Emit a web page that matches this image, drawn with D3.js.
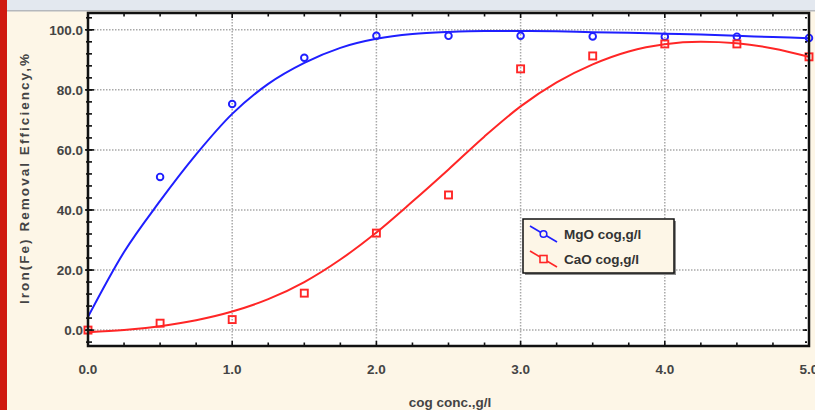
<!DOCTYPE html>
<html>
<head>
<meta charset="utf-8">
<script src="https://cdn.jsdelivr.net/npm/d3@7"></script>
<style>
  body { margin: 0; background: #fdf6e7; }
  svg { display: block; font-family: "Liberation Sans", Arial, sans-serif; }
</style>
</head>
<body>
<script>

// Valores
var doses = [0.0, 0.5, 1.0, 1.5, 2.0, 2.5, 3.0, 3.5, 4.0, 4.5, 5.0];
var mgoPontos = [null, 51, 75.3, 90.7, 98, 98, 98, 97.8, 97.7, 97.7, 97.3];
var caoPontos = [0, 2.3, 3.5, 12.3, 32.3, 45, 87, 91.3, 95.3, 95.3, 91];

// Curvas ajustadas (lidas a cada 0.25)
var curvaX = [0, 0.25, 0.5, 0.75, 1.0, 1.25, 1.5, 1.75, 2.0, 2.25, 2.5, 2.75, 3.0, 3.25, 3.5, 3.75, 4.0, 4.25, 4.5, 4.75, 5.0];
var mgoCurva = [4.4, 26, 43, 58.5, 72, 82, 89, 94, 97, 98.6, 99.3, 99.6, 99.6, 99.5, 99.2, 99, 98.7, 98.4, 98, 97.6, 97.2];
var caoCurva = [-0.7, 0, 1.3, 3.3, 6.2, 10.3, 16, 23.5, 32.5, 42.8, 53.5, 64.5, 74.5, 82.5, 88.5, 92.8, 95.2, 96, 95.5, 93.8, 91];

var xTicks = [0, 1, 2, 3, 4, 5];
var yTicks = [0, 20, 40, 60, 80, 100];

var series = [
  { nome: "MgO cog,g/l", cor: "#1f1fff", pontos: mgoPontos, curva: mgoCurva, simbolo: "circle" },
  { nome: "CaO cog,g/l", cor: "#ff2626", pontos: caoPontos, curva: caoCurva, simbolo: "square" }
];

var W = 815, H = 410;
var margin = { top: 13, right: 6, bottom: 64, left: 88 };
var width = W - margin.left - margin.right,
    height = H - margin.top - margin.bottom;

var svg = d3.select("body").append("svg")
    .attr("width", W)
    .attr("height", H);

// Faixas do fundo
svg.append("rect").attr("x", 0).attr("y", 0).attr("width", W).attr("height", H).attr("fill", "#fdf6e7");
svg.append("rect").attr("x", 0).attr("y", 0).attr("width", W).attr("height", 10).attr("fill", "#e3e8ef");
svg.append("rect").attr("x", 0).attr("y", 10).attr("width", W).attr("height", 1.5).attr("fill", "#b5b8bd");
svg.append("rect").attr("x", 0).attr("y", 0).attr("width", 7).attr("height", H).attr("fill", "#d0190f");

var g = svg.append("g")
    .attr("transform", "translate(" + margin.left + "," + margin.top + ")");

var x = d3.scaleLinear().domain([0, 5]).range([0, width]);
var y = d3.scaleLinear().domain([-5.3, 105.6]).range([height, 0]);

g.append("rect")
  .attr("width", width).attr("height", height)
  .attr("fill", "#ffffff");

// Grade pontilhada
g.selectAll(".gx").data(xTicks.slice(1, -1)).enter().append("line")
  .attr("x1", function(d) { return x(d); }).attr("x2", function(d) { return x(d); })
  .attr("y1", 0).attr("y2", height)
  .attr("stroke", "#a9a9a9").attr("stroke-width", 1.5).attr("stroke-dasharray", "1.5,1.5");

g.selectAll(".gy").data(yTicks).enter().append("line")
  .attr("x1", 0).attr("x2", width)
  .attr("y1", function(d) { return y(d); }).attr("y2", function(d) { return y(d); })
  .attr("stroke", "#a9a9a9").attr("stroke-width", 1.5).attr("stroke-dasharray", "1.5,1.5");

g.append("clipPath").attr("id", "clip")
  .append("rect").attr("width", width).attr("height", height);

var linha = d3.line()
  .x(function(d, i) { return x(curvaX[i]); })
  .y(function(d) { return y(d); })
  .curve(d3.curveMonotoneX);

var plot = g.append("g").attr("clip-path", "url(#clip)");

series.forEach(function(s) {
  plot.append("path")
    .datum(s.curva)
    .attr("fill", "none")
    .attr("stroke", s.cor)
    .attr("stroke-width", 2)
    .attr("d", linha);
});

series.forEach(function(s) {
  var dados = doses.map(function(d, i) { return { x: d, y: s.pontos[i] }; })
    .filter(function(d) { return d.y !== null; });
  if (s.simbolo === "circle") {
    g.selectAll(".c").data(dados).enter().append("circle")
      .attr("cx", function(d) { return x(d.x); })
      .attr("cy", function(d) { return y(d.y); })
      .attr("r", 3.3)
      .attr("fill", "none")
      .attr("stroke", s.cor)
      .attr("stroke-width", 1.9);
  } else {
    g.selectAll(".s").data(dados).enter().append("rect")
      .attr("x", function(d) { return x(d.x) - 3.5; })
      .attr("y", function(d) { return y(d.y) - 3.5; })
      .attr("width", 7).attr("height", 7)
      .attr("fill", "none")
      .attr("stroke", s.cor)
      .attr("stroke-width", 1.9);
  }
});

// Marcas menores e maiores
var xMinor = d3.range(0, 5.001, 0.25);
var yMinor = d3.range(-4, 105, 4);

function ticksX(yPos, dir) {
  g.selectAll(null).data(xMinor).enter().append("line")
    .attr("x1", function(d) { return x(d); }).attr("x2", function(d) { return x(d); })
    .attr("y1", yPos)
    .attr("y2", function(d) { return yPos + dir * (d % 1 === 0 ? 5 : 3.5); })
    .attr("stroke", "#111").attr("stroke-width", 1.6);
}
function ticksY(xPos, dir) {
  g.selectAll(null).data(yMinor).enter().append("line")
    .attr("y1", function(d) { return y(d); }).attr("y2", function(d) { return y(d); })
    .attr("x1", xPos - 2)
    .attr("x2", xPos + dir * 4)
    .attr("stroke", "#111").attr("stroke-width", 1.6);
  g.selectAll(null).data(yTicks).enter().append("line")
    .attr("y1", function(d) { return y(d); }).attr("y2", function(d) { return y(d); })
    .attr("x1", xPos - 3)
    .attr("x2", xPos + dir * 6)
    .attr("stroke", "#111").attr("stroke-width", 1.6);
}
ticksX(0, 1);
ticksX(height, -1);
ticksY(0, 1);
ticksY(width, -1);

// Moldura
g.append("rect")
  .attr("width", width).attr("height", height)
  .attr("fill", "none").attr("stroke", "#111").attr("stroke-width", 2.5);

// Rótulos dos eixos
g.selectAll(".lx").data(xTicks).enter().append("text")
  .attr("x", function(d) { return x(d); })
  .attr("y", height + 28)
  .attr("text-anchor", "middle")
  .attr("font-size", "13.5px")
  .attr("font-weight", "bold")
  .attr("fill", "#444")
  .text(function(d) { return d.toFixed(1); });

g.selectAll(".ly").data(yTicks).enter().append("text")
  .attr("x", -5)
  .attr("y", function(d) { return y(d) + 5; })
  .attr("text-anchor", "end")
  .attr("font-size", "13.5px")
  .attr("font-weight", "bold")
  .attr("fill", "#444")
  .text(function(d) { return d.toFixed(1); });

svg.append("text")
  .attr("x", 450).attr("y", 407)
  .attr("text-anchor", "middle")
  .attr("font-size", "13.5px")
  .attr("font-weight", "bold")
  .attr("fill", "#444")
  .text("cog conc.,g/l");

svg.append("text")
  .attr("transform", "translate(29,179) rotate(-90)")
  .attr("text-anchor", "middle")
  .attr("font-size", "13.5px")
  .attr("font-weight", "bold")
  .attr("fill", "#444")
  .attr("textLength", 250)
  .attr("lengthAdjust", "spacing")
  .text("Iron(Fe) Removal Efficiency,%");

// Legenda
var leg = svg.append("g").attr("transform", "translate(523,219)");
leg.append("rect")
  .attr("x", 2).attr("y", 2)
  .attr("width", 151).attr("height", 54)
  .attr("fill", "#8d8d8d");
leg.append("rect")
  .attr("width", 151).attr("height", 54)
  .attr("fill", "#fdf6e7")
  .attr("stroke", "#111").attr("stroke-width", 1.5);

series.forEach(function(s, i) {
  var cy = 15 + i * 25;
  leg.append("line")
    .attr("x1", 7).attr("y1", cy - 8).attr("x2", 34).attr("y2", cy + 8)
    .attr("stroke", s.cor).attr("stroke-width", 1.6);
  if (s.simbolo === "circle") {
    leg.append("circle").attr("cx", 20.5).attr("cy", cy).attr("r", 3.3)
      .attr("fill", "#fdf6e7").attr("stroke", s.cor).attr("stroke-width", 1.6);
  } else {
    leg.append("rect").attr("x", 17).attr("y", cy - 3.5).attr("width", 7).attr("height", 7)
      .attr("fill", "#fdf6e7").attr("stroke", s.cor).attr("stroke-width", 1.6);
  }
  leg.append("text")
    .attr("x", 41).attr("y", cy + 5)
    .attr("font-size", "13.5px")
    .attr("font-weight", "bold")
    .attr("fill", "#333")
    .text(s.nome);
});

</script>
</body>
</html>
